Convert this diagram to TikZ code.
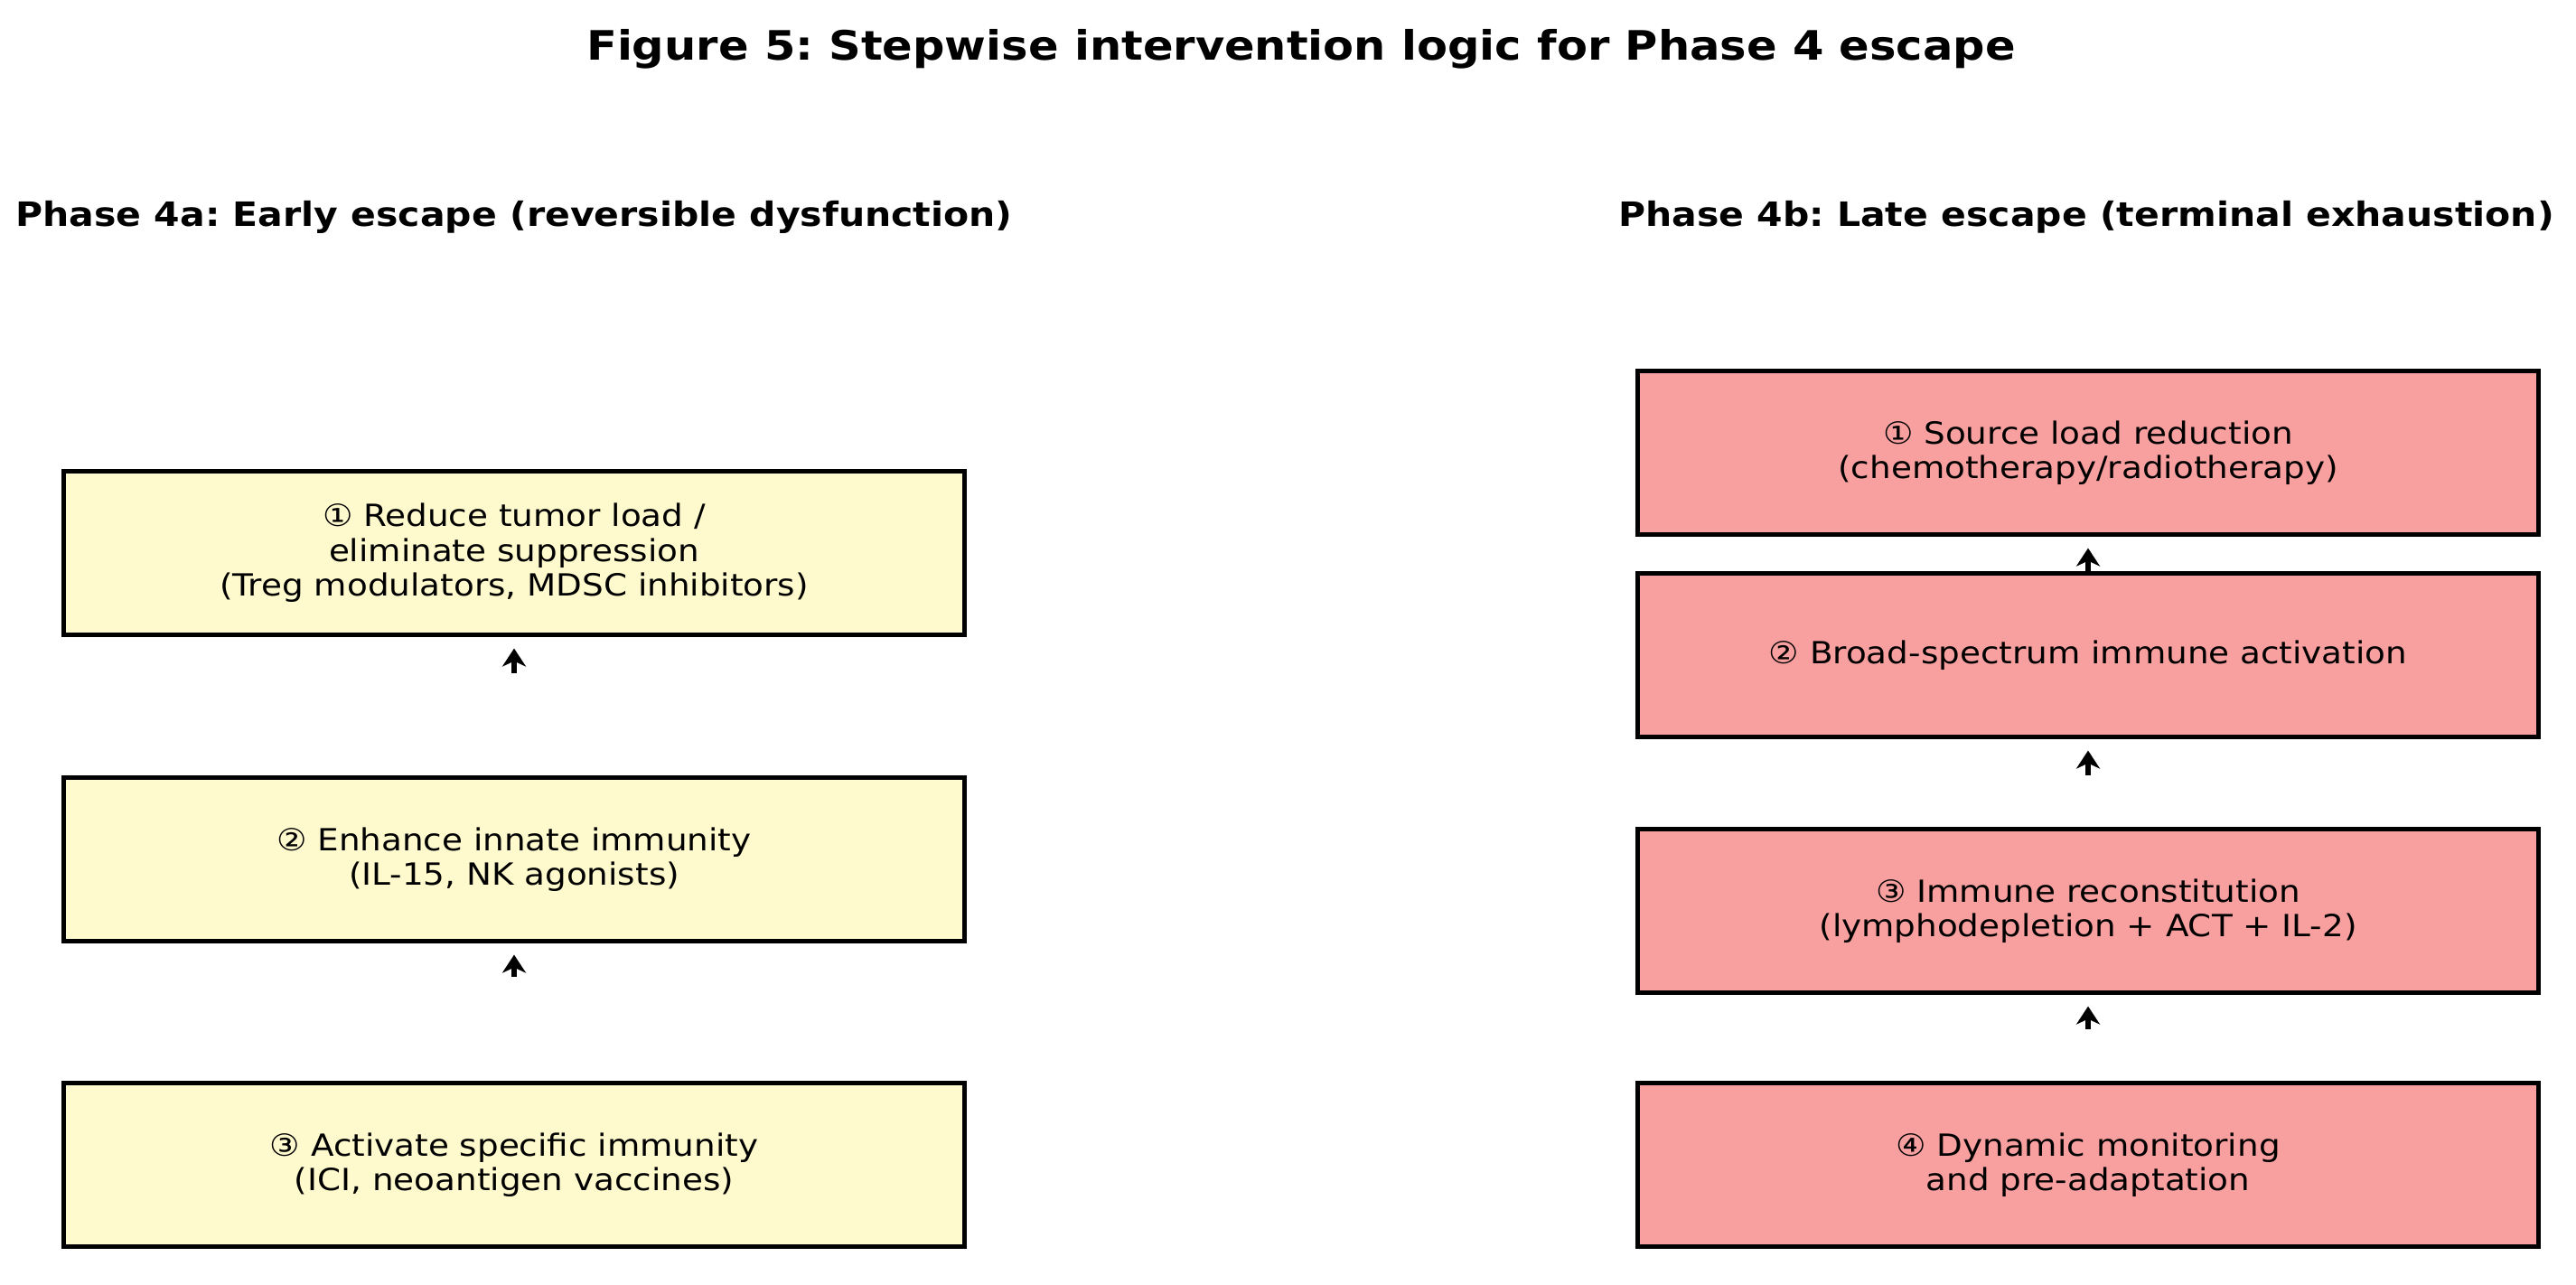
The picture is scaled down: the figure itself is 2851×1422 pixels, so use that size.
\documentclass[tikz,border=0pt]{standalone}
\usepackage{fontspec}
\setmainfont{DejaVu Sans}[FakeStretch=1.105]
\frenchspacing
\usetikzlibrary{calc,arrows.meta}
\definecolor{yelfill}{HTML}{FFFACD}
\definecolor{redfill}{HTML}{F8A0A0}
\tikzset{
  box/.style={draw=black, line width=1.42pt, minimum width=9.96cm, minimum height=1.8cm, inner sep=0pt, align=center, font=\fontsize{9.6}{10.9}\selectfont},
  ybox/.style={box, fill=yelfill},
  rbox/.style={box, fill=redfill},
  arr/.style={-{Stealth[length=0.2cm,width=0.26cm,inset=0.06cm]}, line width=1.7pt, shorten >=0.13cm},
  ttl/.style={font=\fontsize{12.75}{14}\selectfont\bfseries},
  sub/.style={font=\fontsize{10.55}{12}\selectfont\bfseries}
}
\begin{document}
\begin{tikzpicture}[x=0.01cm,y=-0.01cm]
\useasboundingbox (0,0) rectangle (2851,1422);
\node[ttl] (title) at (1440,54) {Figure 5: Stepwise intervention logic for Phase 4 escape};
\node[sub] (subA) at (569,240) {Phase 4a: Early escape (reversible dysfunction)};
\node[sub] (subB) at (2309,240) {Phase 4b: Late escape (terminal exhaustion)};

\node[ybox] (L1) at (569,612) {① Reduce tumor load /\\eliminate suppression\\(Treg modulators, MDSC inhibitors)};
\node[ybox] (L2) at (569,951) {② Enhance innate immunity\\(IL-15, NK agonists)};
\node[ybox] (L3) at (569,1289) {③ Activate specific immunity\\(ICI, neoantigen vaccines)};

\node[rbox] (R1) at (2311,501) {① Source load reduction\\(chemotherapy/radiotherapy)};
\node[rbox] (R2) at (2311,725) {② Broad-spectrum immune activation};
\node[rbox] (R3) at (2311,1008) {③ Immune reconstitution\\(lymphodepletion + ACT + IL-2)};
\node[rbox] (R4) at (2311,1289) {④ Dynamic monitoring\\and pre-adaptation};

\coordinate (tL1) at ($(L1.south)+(0,40)$);
\coordinate (tL2) at ($(L2.south)+(0,37)$);
\coordinate (tR1) at ($(R1.south)+(0,41)$);
\coordinate (tR2) at ($(R2.south)+(0,40)$);
\coordinate (tR3) at ($(R3.south)+(0,38)$);
\draw[arr] (tL1) -- (L1.south);
\draw[arr] (tL2) -- (L2.south);
\draw[arr] (tR1) -- (R1.south);
\draw[arr] (tR2) -- (R2.south);
\draw[arr] (tR3) -- (R3.south);
\end{tikzpicture}
\end{document}
